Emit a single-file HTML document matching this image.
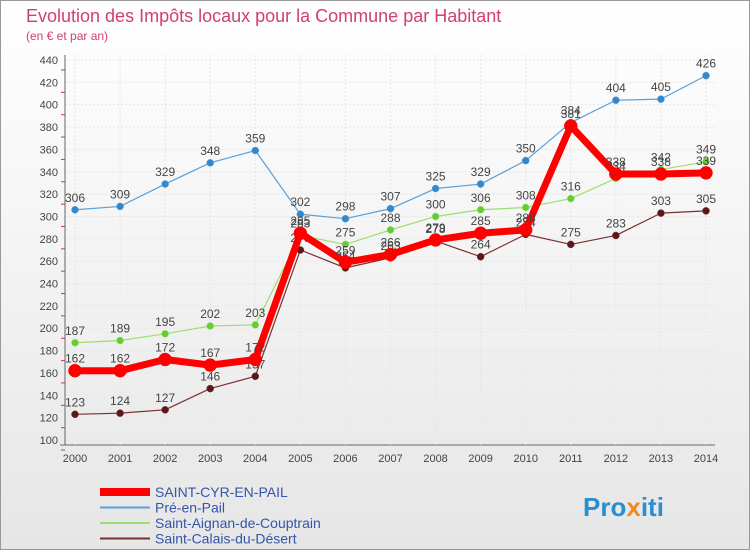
<!DOCTYPE html>
<html><head><meta charset="utf-8"><style>
body{margin:0;width:750px;height:550px;font-family:"Liberation Sans",sans-serif;}
svg{display:block}
</style></head><body>
<svg id="c" width="750" height="550" xmlns="http://www.w3.org/2000/svg">
<defs><linearGradient id="bg" x1="0" y1="0" x2="0" y2="1"><stop offset="0" stop-color="#fff"/><stop offset="1" stop-color="#e6e6e6"/></linearGradient></defs>
<rect x="0.5" y="0.5" width="749" height="549" fill="url(#bg)" stroke="#999"/>
<text x="26" y="22" font-size="18" fill="#d04070">Evolution des Impôts locaux pour la Commune par Habitant</text>
<text x="26" y="40" font-size="12" fill="#d04070">(en € et par an)</text>
<g id="grid"></g><g id="series"></g><g id="legend"></g>
<text x="583" y="516" font-size="26" font-weight="bold" fill="#2a8fd0">Pro<tspan fill="#f08a20">x</tspan>iti</text>
</svg>
<script>
const years=[2000,2001,2002,2003,2004,2005,2006,2007,2008,2009,2010,2011,2012,2013,2014];
const yTicks=[100,120,140,160,180,200,220,240,260,280,300,320,340,360,380,400,420,440];
const cyr=[162,162,172,167,172,285,259,266,279,285,288,381,338,338,339];
const pre=[306,309,329,348,359,302,298,307,325,329,350,384,404,405,426];
const aignan=[187,189,195,202,203,283,275,288,300,306,308,316,334,342,349];
const calais=[123,124,127,146,157,270,254,263,278,264,284,275,283,303,305];
const NS="http://www.w3.org/2000/svg";
const X=i=>75+i*(631/14);
const Y=v=>440-(v-100)*(380/340);
function mk(t,a,p){const e=document.createElementNS(NS,t);for(const k in a)e.setAttribute(k,a[k]);p.appendChild(e);return e;}
const g=document.getElementById('grid');
yTicks.forEach(v=>{const l=mk('line',{x1:65,x2:715,y1:Y(v),y2:Y(v),stroke:'#e6e6e6','stroke-dasharray':'2,2'},g);


mk('line',{x1:61,x2:65,y1:Y(v)+10,y2:Y(v)+10,stroke:'#e03030'},g);
const t=mk('text',{x:58,y:Y(v)+4,'font-size':11,'text-anchor':'end',fill:'#444'},g);t.textContent=v;

});
mk('line',{x1:65,x2:65,y1:55,y2:445,stroke:'#666'},g);
mk('line',{x1:60,x2:715,y1:445,y2:445,stroke:'#666'},g);
years.forEach((yr,i)=>{const l=mk('line',{x1:X(i),x2:X(i),y1:55,y2:445,stroke:'#e6e6e6','stroke-dasharray':'2,2'},g);


const t=mk('text',{x:X(i),y:462,'font-size':11,'text-anchor':'middle',fill:'#444'},g);t.textContent=yr;

});
const s=document.getElementById('series');
function draw(d,col,dot,w,r,name){const gg=mk('g',{},s);


mk('polyline',{points:d.map((v,i)=>X(i)+','+Y(v)).join(' '),fill:'none',stroke:col,'stroke-width':w,'stroke-linejoin':'round'},gg);
d.forEach((v,i)=>{const c=mk('circle',{cx:X(i),cy:Y(v),r:r,fill:dot,stroke:col,'stroke-width':0.5},gg);


const t=mk('text',{x:X(i),y:Y(v)-8,'font-size':12,'text-anchor':'middle',fill:'#444'},gg);t.textContent=v;

});}
draw(calais,'#7a3030','#5a1818',1.2,3.5,'saint-calais-series');
draw(aignan,'#99e070','#66cc33',1.2,3.5,'saint-aignan-series');
draw(pre,'#5aa0d8','#3388cc',1.2,3.5,'pre-en-pail-series');
draw(cyr,'#ff0000','#ff0000',7,6.5,'saint-cyr-series');
const lg=document.getElementById('legend');
[['SAINT-CYR-EN-PAIL','#ff0000',8],['Pré-en-Pail','#5aa0d8',2],['Saint-Aignan-de-Couptrain','#99e070',2],['Saint-Calais-du-Désert','#7a3030',2]].forEach((e,i)=>{const y=492+i*15.5;
const l=mk('line',{x1:100,x2:150,y1:y,y2:y,stroke:e[1],'stroke-width':e[2]},lg);


const t=mk('text',{x:155,y:y+5,'font-size':14,fill:'#3355aa'},lg);t.textContent=e[0];

});
</script>
</body></html>
